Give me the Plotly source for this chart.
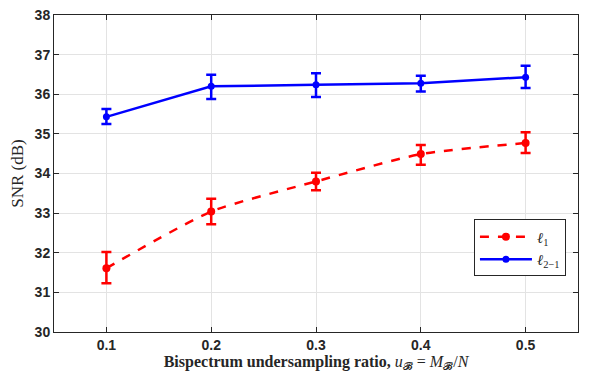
import plotly.graph_objects as go

x_vals = [0.1, 0.2, 0.3, 0.4, 0.5]
l1_snr = [31.61, 33.04, 33.80, 34.49, 34.77]
l1_err_plus = [0.41, 0.32, 0.22, 0.23, 0.27]
l1_err_minus = [0.38, 0.32, 0.22, 0.27, 0.25]
l21_snr = [35.43, 36.20, 36.24, 36.28, 36.43]
l21_err_plus = [0.20, 0.29, 0.29, 0.19, 0.29]
l21_err_minus = [0.18, 0.32, 0.31, 0.21, 0.27]
x_ticks = [0.1, 0.2, 0.3, 0.4, 0.5]
y_ticks = [30, 31, 32, 33, 34, 35, 36, 37, 38]

fig = go.Figure()
fig.add_trace(go.Scatter(
    x=x_vals, y=l1_snr, mode="lines+markers", name="<i>ℓ</i><sub>1</sub>",
    line=dict(color="#ff0000", width=2.5, dash="dash", shape="spline", smoothing=0.6),
    marker=dict(color="#ff0000", size=8, symbol="circle"),
    error_y=dict(type="data", symmetric=False, array=l1_err_plus, arrayminus=l1_err_minus,
                 color="#ff0000", thickness=2.5, width=5),
))
fig.add_trace(go.Scatter(
    x=x_vals, y=l21_snr, mode="lines+markers", name="<i>ℓ</i><sub>2−1</sub>",
    line=dict(color="#0000ff", width=2.5),
    marker=dict(color="#0000ff", size=7, symbol="circle"),
    error_y=dict(type="data", symmetric=False, array=l21_err_plus, arrayminus=l21_err_minus,
                 color="#0000ff", thickness=2.5, width=5),
))

axis_common = dict(
    showline=True, linecolor="#262626", linewidth=1, mirror="ticks",
    ticks="inside", ticklen=5, tickcolor="#262626", automargin=False,
    ticklabeloverflow="allow",
    showgrid=True, gridcolor="#e3e3e3", gridwidth=1, zeroline=False,
    tickfont=dict(family="Liberation Sans", size=14, color="#262626", weight="bold"),
)
fig.update_xaxes(range=[0.05, 0.55], tickvals=x_ticks, ticktext=[str(v) for v in x_ticks],
                 title=dict(text="<b>Bispectrum undersampling ratio,</b> <i>u</i><sub>𝓑</sub> = <i>M</i><sub>𝓑</sub>/<i>N</i>",
                            font=dict(family="Liberation Serif", size=16, color="#262626"), standoff=2),
                 **axis_common)
fig.update_yaxes(range=[30, 38], tickvals=y_ticks,
                 title=dict(text="SNR (dB)", font=dict(family="Liberation Serif", size=17, color="#262626"), standoff=6),
                 **axis_common)
fig.update_layout(
    width=592, height=376,
    margin=dict(l=46, r=22, t=7, b=52, autoexpand=False),
    plot_bgcolor="white", paper_bgcolor="white",
    showlegend=True,
    legend=dict(x=0.977, y=0.355, xanchor="right", yanchor="top",
                bordercolor="#262626", borderwidth=1, bgcolor="white",
                font=dict(family="Liberation Serif", size=15, color="#262626"),
                tracegroupgap=6, itemwidth=52),
)
fig.write_html("out.html")
